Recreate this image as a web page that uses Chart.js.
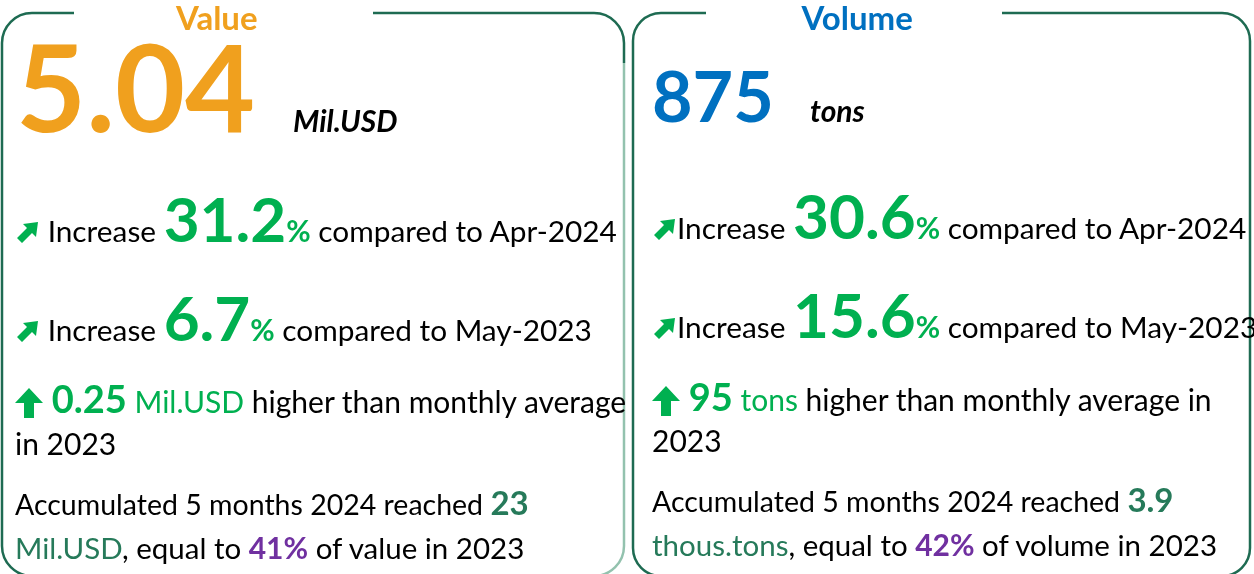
<!DOCTYPE html>
<html lang="en">
<head>
  <meta charset="UTF-8">
  <title>Value and Volume - May 2024</title>
  <script src="https://cdn.jsdelivr.net/npm/chart.js"></script>
  <style>
    body { margin: 0; background: #fff; }
    #stage { position: relative; width: 1254px; height: 574px; overflow: hidden; background: #fff; font-family: Lato, "Open Sans", sans-serif; }
    #frames { position: absolute; left: 0; top: 0; }
    .ln { position: absolute; white-space: nowrap; line-height: 1; font-size: 29px; color: #000; }
    .mk { display: inline-block; width: 0; height: 0; }
    .g { color: #00B050; }
    .gb { color: #00B050; font-weight: 700; }
    .dg { color: #267A5A; }
    .dgb { color: #267A5A; font-weight: 700; }
    .pu { color: #7030A0; font-weight: 700; }
    svg { vertical-align: baseline; }
  </style>
</head>
<body>
  <div id="stage">
    <canvas id="frames" width="1254" height="574"></canvas>
    <div id="texts"></div>
  </div>

  <script>
    // figures for May-2024
    const panelTitles = ['Value', 'Volume'];
    const headlineValues = ['5.04', '875'];
    const headlineUnits = ['Mil.USD', 'tons'];
    const changeVsLastMonth = ['31.2', '30.6'];
    const changeVsLastYear = ['6.7', '15.6'];
    const compareLabels = ['Apr-2024', 'May-2023'];
    const aboveAverage = ['0.25', '95'];
    const aboveAverageUnits = ['Mil.USD', 'tons'];
    const ytdTotals = ['23', '3.9'];
    const ytdUnits = ['Mil.USD', 'thous.tons'];
    const ytdShares = ['41', '42'];
    const shareOf = ['value', 'volume'];

    const titleColors = ['#F0A01E', '#0070C0'];

    const diagArrow = '<svg width="25" height="22" viewBox="0 0 25 22" style="margin-bottom:-1px"><path d="M2 17 L12 7 L8 3 L23 1 L21 16 L17 12 L7 22 Z" fill="#00B050"/></svg>';
    const upArrow = '<svg width="30" height="32" viewBox="0 0 30 32" style="margin-bottom:-6px"><path d="M15 1 L29 16 L20 16 L20 31 L10 31 L10 16 L1 16 Z" fill="#00B050"/></svg>';

    const texts = document.getElementById('texts');

    function addLine(x, baseline, html, extra) {
      const d = document.createElement('div');
      d.className = 'ln';
      d.style.left = x + 'px';
      d.style.top = '0px';
      if (extra) d.style.cssText += extra;
      d.innerHTML = '<span class="mk"></span>' + html;
      texts.appendChild(d);
      const mk = d.querySelector('.mk');
      d.style.top = (baseline - mk.offsetTop) + 'px';
      return d;
    }

    function buildPanel(i, x, b) {
      const t = addLine(0, b.title, panelTitles[i],
        `font-weight:700;font-size:33px;color:${titleColors[i]};`);
      t.style.left = (b.titleCx - t.offsetWidth / 2) + 'px';

      addLine(x + b.bigDx, b.big, headlineValues[i],
        `font-weight:700;font-size:${b.bigFs}px;color:${titleColors[i]};`);
      addLine(b.unitX, b.big, headlineUnits[i], 'font-weight:700;font-style:italic;font-size:30px;');

      const sp = b.arrowGap ? ' ' : '';
      const big = 'font-size:62px';
      addLine(x, b.row1, `${diagArrow}${sp}Increase <span class="gb" style="${big}">${changeVsLastMonth[i]}</span><span class="gb">%</span> compared to ${compareLabels[0]}`, 'font-size:29.8px;');
      addLine(x, b.row2, `${diagArrow}${sp}Increase <span class="gb" style="${big}">${changeVsLastYear[i]}</span><span class="gb">%</span> compared to ${compareLabels[1]}`, 'font-size:29.8px;');

      const wrapIn = b.wrapIn;
      addLine(x - 1, b.row3, `${upArrow} <span class="gb" style="font-size:38px">${aboveAverage[i]}</span> <span class="g">${aboveAverageUnits[i]}</span> higher than monthly average${wrapIn ? '' : ' in'}`, 'font-size:30px;');
      addLine(x, b.row3b, wrapIn ? 'in 2023' : '2023', 'font-size:30px;');

      addLine(x, b.row4, `Accumulated 5 months 2024 reached <span class="dgb" style="font-size:33px">${ytdTotals[i]}</span>`, 'font-size:28.5px;');
      addLine(x, b.row4b, `<span class="dg">${ytdUnits[i]}</span>, equal to <span class="pu" style="font-size:30px">${ytdShares[i]}%</span> of ${shareOf[i]} in 2023`, 'font-size:29.5px;');
    }

    buildPanel(0, 15, { title: 30, titleCx: 217, big: 132, bigDx: 1, bigFs: 121, unitX: 293,
      arrowGap: true, row1: 242, row2: 341, row3: 413, row3b: 455, row4: 515, row4b: 559, wrapIn: true });
    buildPanel(1, 652, { title: 30, titleCx: 857, big: 122, bigDx: 0, bigFs: 70, unitX: 810,
      arrowGap: false, row1: 239, row2: 338, row3: 411, row3b: 452, row4: 512, row4b: 556, wrapIn: false });

    // the two rounded frames, drawn on a Chart.js canvas
    const panelFrames = {
      id: 'panelFrames',
      afterDraw(chart) {
        const ctx = chart.ctx;
        function frame(x0, x1, y0, y1, gapL, gapR, r, col, sideCol) {
          ctx.save();
          ctx.lineWidth = 2.5;
          ctx.strokeStyle = col;
          ctx.beginPath();
          ctx.moveTo(gapL, y0);
          ctx.lineTo(x0 + r, y0);
          ctx.arcTo(x0, y0, x0, y0 + r, r);
          ctx.lineTo(x0, y1 - r);
          ctx.arcTo(x0, y1, x0 + r, y1, r);
          ctx.lineTo(x1 - r, y1);
          ctx.stroke();
          ctx.strokeStyle = sideCol;
          ctx.beginPath();
          ctx.moveTo(x1 - r, y1);
          ctx.arcTo(x1, y1, x1, y1 - r, r);
          ctx.lineTo(x1, y0 + r + 20);
          ctx.stroke();
          ctx.strokeStyle = col;
          ctx.beginPath();
          ctx.moveTo(x1, y0 + r + 20);
          ctx.lineTo(x1, y0 + r);
          ctx.arcTo(x1, y0, x1 - r, y0, r);
          ctx.lineTo(gapR, y0);
          ctx.stroke();
          ctx.restore();
        }
        frame(2, 624, 13, 576, 74, 373, 30, '#1E6B52', '#93C2AE');
        frame(633, 1250, 13, 576, 706, 1002, 28, '#1E6B52', '#1E6B52');
      }
    };

    new Chart(document.getElementById('frames'), {
      type: 'scatter',
      data: { datasets: [] },
      options: {
        responsive: false,
        animation: false,
        events: [],
        layout: { padding: 0 },
        scales: { x: { display: false }, y: { display: false } },
        plugins: { legend: { display: false }, tooltip: { enabled: false } }
      },
      plugins: [panelFrames]
    });
  </script>
</body>
</html>
